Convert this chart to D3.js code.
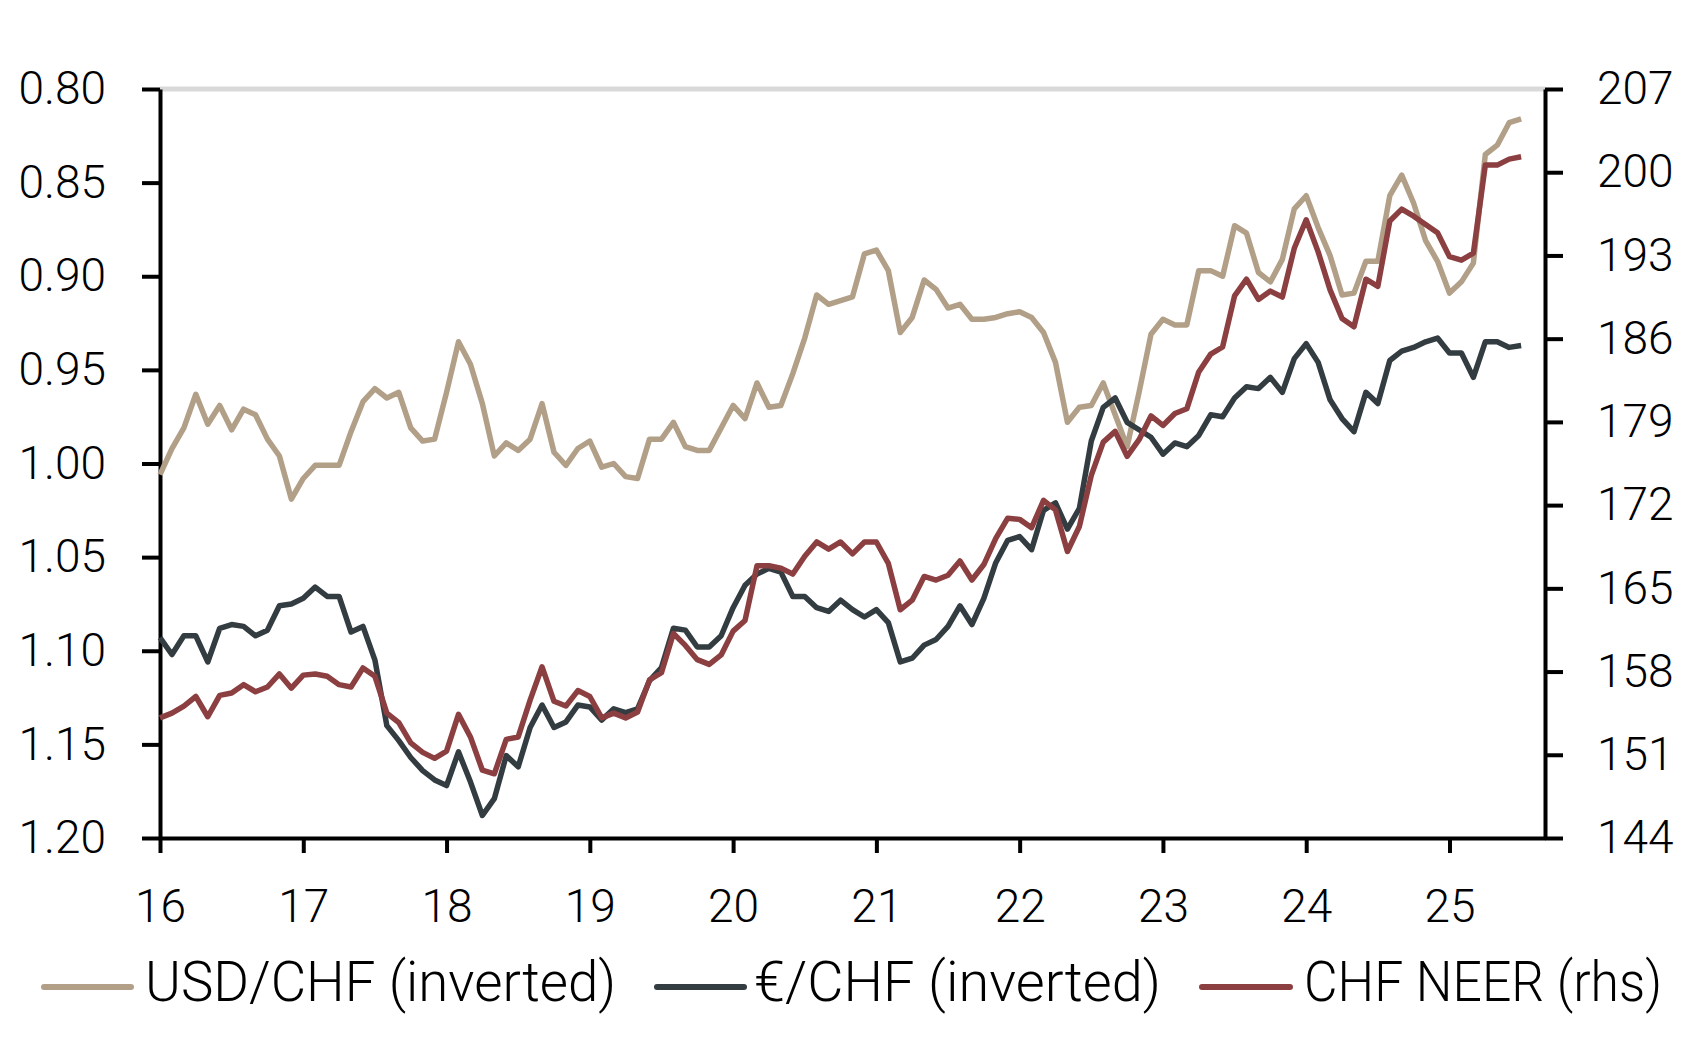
<!DOCTYPE html>
<html>
<head>
<meta charset="utf-8">
<script src="https://cdn.jsdelivr.net/npm/d3@7"></script>
<style>
  body { margin: 0; background: #fff; }
  .chart text { font-family: Roboto, "Noto Sans", sans-serif; font-weight: 300; fill: #000; }
</style>
</head>
<body>
<div class="chart"></div>
<script>
var width = 1689, height = 1039;
var padding = { top: 89, right: 144, bottom: 201, left: 160 };

// monthly data, Jan 2016 .. Jul 2025
var startMonth = "2016-01";
var usdchf = [1.006, 0.992, 0.981, 0.963, 0.979, 0.969, 0.982, 0.971, 0.974, 0.987, 0.996, 1.019,
  1.008, 1.001, 1.001, 1.001, 0.983, 0.967, 0.960, 0.965, 0.962, 0.981, 0.988, 0.987,
  0.962, 0.935, 0.947, 0.968, 0.996, 0.989, 0.993, 0.987, 0.968, 0.994, 1.001, 0.992,
  0.988, 1.002, 1.000, 1.007, 1.008, 0.987, 0.987, 0.978, 0.991, 0.993, 0.993, 0.981,
  0.969, 0.976, 0.957, 0.970, 0.969, 0.952, 0.933, 0.910, 0.915, 0.913, 0.911, 0.888,
  0.886, 0.897, 0.930, 0.922, 0.902, 0.907, 0.917, 0.915, 0.923, 0.923, 0.922, 0.920,
  0.919, 0.922, 0.930, 0.946, 0.978, 0.970, 0.969, 0.957, 0.974, 0.991, 0.962, 0.931,
  0.923, 0.926, 0.926, 0.897, 0.897, 0.900, 0.873, 0.877, 0.898, 0.903, 0.891, 0.864,
  0.857, 0.874, 0.889, 0.910, 0.909, 0.892, 0.892, 0.857, 0.846, 0.861, 0.881, 0.892,
  0.909, 0.903, 0.893, 0.835, 0.830, 0.818, 0.816];
var eurchf = [1.093, 1.102, 1.092, 1.092, 1.106, 1.088, 1.086, 1.087, 1.092, 1.089, 1.076, 1.075,
  1.072, 1.066, 1.071, 1.071, 1.090, 1.087, 1.105, 1.140, 1.148, 1.157, 1.164, 1.169,
  1.172, 1.154, 1.170, 1.188, 1.179, 1.156, 1.162, 1.141, 1.129, 1.141, 1.138, 1.129,
  1.130, 1.137, 1.131, 1.133, 1.131, 1.116, 1.109, 1.088, 1.089, 1.098, 1.098, 1.092,
  1.077, 1.065, 1.059, 1.056, 1.058, 1.071, 1.071, 1.077, 1.079, 1.073, 1.078, 1.082,
  1.078, 1.085, 1.106, 1.104, 1.097, 1.094, 1.087, 1.076, 1.086, 1.072, 1.053, 1.041,
  1.039, 1.046, 1.025, 1.021, 1.035, 1.024, 0.988, 0.970, 0.965, 0.978, 0.982, 0.986,
  0.995, 0.989, 0.991, 0.985, 0.974, 0.975, 0.965, 0.959, 0.960, 0.954, 0.962, 0.944,
  0.936, 0.946, 0.966, 0.976, 0.983, 0.962, 0.968, 0.945, 0.940, 0.938, 0.935, 0.933,
  0.941, 0.941, 0.954, 0.935, 0.935, 0.938, 0.937];
var neer = [154.1, 154.5, 155.1, 155.9, 154.2, 156.0, 156.2, 156.9, 156.3, 156.7, 157.8, 156.6,
  157.7, 157.8, 157.6, 156.9, 156.7, 158.3, 157.6, 154.5, 153.7, 152.0, 151.2, 150.7,
  151.3, 154.4, 152.5, 149.7, 149.4, 152.3, 152.5, 155.6, 158.4, 155.5, 155.1, 156.4,
  155.9, 154.1, 154.5, 154.1, 154.6, 157.3, 157.9, 161.2, 160.2, 159.0, 158.6, 159.4,
  161.4, 162.3, 166.9, 166.9, 166.7, 166.2, 167.7, 168.9, 168.3, 168.9, 167.9, 168.9,
  168.9, 167.1, 163.2, 164.0, 166.0, 165.7, 166.1, 167.3, 165.7, 167.0, 169.2, 170.9,
  170.8, 170.1, 172.4, 171.6, 168.1, 170.2, 174.5, 177.3, 178.2, 176.1, 177.5, 179.5,
  178.7, 179.7, 180.1, 183.2, 184.7, 185.3, 189.6, 191.0, 189.3, 190.0, 189.5, 193.6,
  196.0, 193.3, 190.1, 187.7, 187.0, 191.0, 190.4, 195.9, 196.9, 196.3, 195.6, 194.9,
  192.9, 192.6, 193.2, 200.6, 200.6, 201.1, 201.3];

var yearLabels = ['16', '17', '18', '19', '20', '21', '22', '23', '24', '25'];
var leftTicks = [0.80, 0.85, 0.90, 0.95, 1.00, 1.05, 1.10, 1.15, 1.20];
var rightTicks = [207, 200, 193, 186, 179, 172, 165, 158, 151, 144];
var seriesNames = ['USD/CHF (inverted)', '€/CHF (inverted)', 'CHF NEER (rhs)'];
var seriesColors = ['#b29f88', '#323c41', '#8c3f40'];

var svg = d3.select(".chart")
  .append("svg")
  .attr("width", width)
  .attr("height", height);

var plotW = width - padding.left - padding.right;
var plotH = height - padding.top - padding.bottom;

// x: month index from Jan 2016, axis runs to Sep 2025
var x_scale = d3.scaleLinear().domain([0, 116]).range([padding.left, padding.left + plotW]);
var yL = d3.scaleLinear().domain([0.80, 1.20]).range([padding.top, padding.top + plotH]);
var yR = d3.scaleLinear().domain([144, 207]).range([padding.top + plotH, padding.top]);

// top gridline
svg.append("line")
  .attr("x1", padding.left).attr("x2", padding.left + plotW)
  .attr("y1", yL(0.80)).attr("y2", yL(0.80))
  .attr("stroke", "#d9d9d9").attr("stroke-width", 5);

function styleAxis(g) {
  g.selectAll("path").attr("stroke", "#000").attr("stroke-width", 4);
  g.selectAll("line").attr("stroke", "#000").attr("stroke-width", 4);
  g.selectAll("text").attr("font-size", 46).attr("fill", "#000");
}

svg.append("g")
  .attr("transform", "translate(" + padding.left + ",0)")
  .call(d3.axisLeft(yL).tickValues(leftTicks).tickFormat(d3.format(".2f"))
    .tickSize(18).tickSizeOuter(0).tickPadding(36))
  .call(styleAxis);

svg.append("g")
  .attr("transform", "translate(" + (padding.left + plotW) + ",0)")
  .call(d3.axisRight(yR).tickValues(rightTicks).tickFormat(d3.format("d"))
    .tickSize(18).tickSizeOuter(0).tickPadding(34))
  .call(styleAxis);

svg.append("g")
  .attr("transform", "translate(0," + (padding.top + plotH) + ")")
  .call(d3.axisBottom(x_scale).tickValues(yearLabels.map(function(d, i){ return i * 12; }))
    .tickFormat(function(d, i){ return yearLabels[i]; })
    .tickSize(15).tickSizeOuter(0).tickPadding(36))
  .call(styleAxis);

var lineL = d3.line().x(function(d, i){ return x_scale(i); }).y(function(d){ return yL(d); });
var lineR = d3.line().x(function(d, i){ return x_scale(i); }).y(function(d){ return yR(d); });

[[usdchf, lineL], [eurchf, lineL], [neer, lineR]].forEach(function(s, k){
  svg.append("path")
    .attr("d", s[1](s[0]))
    .attr("fill", "none")
    .attr("stroke", seriesColors[k])
    .attr("stroke-width", 5.5)
    .attr("stroke-linejoin", "round");
});

// legend
var legendY = 987;
var legendItems = [
  { x1: 44, x2: 131, tx: 145, tw: 471 },
  { x1: 657, x2: 744, tx: 754, tw: 407 },
  { x1: 1202, x2: 1290, tx: 1304, tw: 358 }
];
legendItems.forEach(function(d, k){
  svg.append("line")
    .attr("x1", d.x1).attr("x2", d.x2)
    .attr("y1", legendY).attr("y2", legendY)
    .attr("stroke", seriesColors[k]).attr("stroke-width", 6)
    .attr("stroke-linecap", "round");
  svg.append("text")
    .attr("x", d.tx).attr("y", 1001)
    .attr("font-size", 55)
    .attr("textLength", d.tw)
    .attr("lengthAdjust", "spacingAndGlyphs")
    .text(seriesNames[k]);
});
</script>
</body>
</html>
